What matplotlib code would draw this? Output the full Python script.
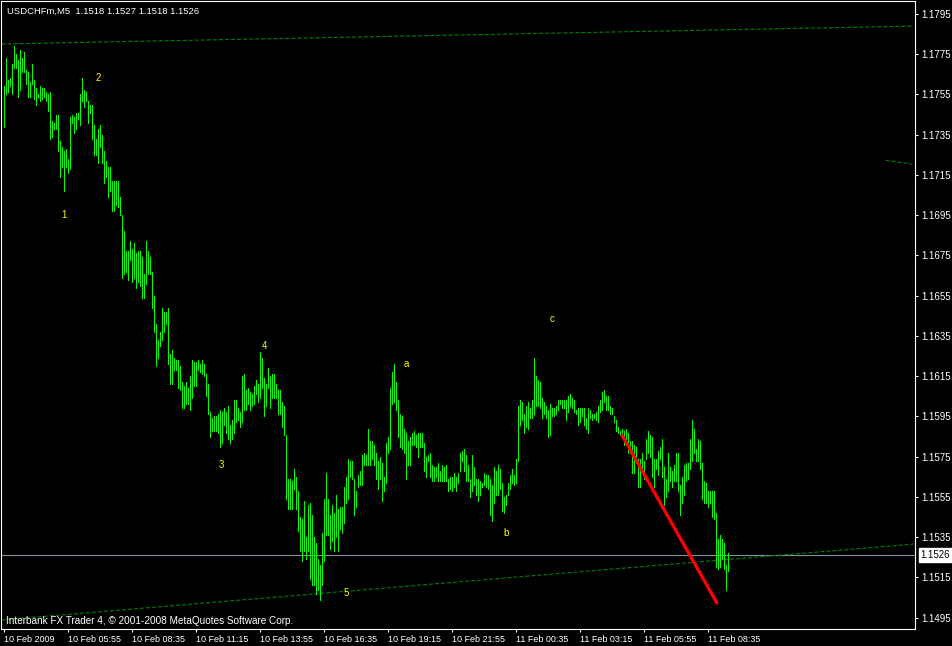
import matplotlib
import matplotlib.pyplot as plt
import matplotlib.transforms as mtransforms
import numpy as np
import pandas as pd

plt.switch_backend('agg')
plt.rcParams['font.family'] = ['Liberation Sans', 'DejaVu Sans']
plt.rcParams['lines.scale_dashes'] = False

# 5 minute bars, prices in pips (1/10000)
high_pips = [
    11759, 11773, 11762, 11763, 11770, 11779, 11775, 11772, 11777, 11773,
    11776, 11767, 11766, 11761, 11770, 11762, 11758, 11755, 11759, 11758,
    11758, 11756, 11755, 11756, 11742, 11741, 11745, 11745, 11732, 11729,
    11727, 11728, 11723, 11744, 11745, 11744, 11746, 11746, 11755, 11763,
    11757, 11756, 11752, 11750, 11750, 11740, 11733, 11738, 11740, 11735,
    11727, 11722, 11719, 11719, 11712, 11712, 11712, 11712, 11704, 11695,
    11687, 11677, 11677, 11682, 11678, 11681, 11676, 11677, 11677, 11674,
    11666, 11682, 11677, 11674, 11667, 11655, 11641, 11633, 11637, 11649,
    11647, 11647, 11649, 11626, 11628, 11624, 11623, 11623, 11620, 11612,
    11610, 11612, 11609, 11615, 11623, 11622, 11622, 11623, 11621, 11623,
    11621, 11616, 11611, 11597, 11594, 11595, 11595, 11596, 11598, 11597,
    11599, 11597, 11600, 11591, 11593, 11603, 11603, 11599, 11597, 11615,
    11616, 11608, 11609, 11607, 11606, 11610, 11613, 11611, 11627, 11624,
    11614, 11611, 11619, 11615, 11616, 11616, 11611, 11608, 11608, 11602,
    11600, 11586, 11564, 11564, 11563, 11569, 11565, 11558, 11545, 11544,
    11553, 11535, 11551, 11552, 11546, 11535, 11532, 11524, 11521, 11537,
    11554, 11567, 11554, 11546, 11551, 11547, 11556, 11549, 11550, 11550,
    11560, 11565, 11574, 11573, 11573, 11564, 11558, 11566, 11568, 11576,
    11577, 11576, 11589, 11583, 11583, 11581, 11577, 11573, 11575, 11572,
    11565, 11582, 11585, 11609, 11617, 11621, 11612, 11603, 11596, 11595,
    11589, 11587, 11583, 11585, 11587, 11588, 11586, 11587, 11587, 11587,
    11582, 11575, 11576, 11577, 11571, 11570, 11570, 11572, 11568, 11571,
    11570, 11571, 11564, 11565, 11565, 11567, 11565, 11567, 11577, 11578,
    11579, 11576, 11571, 11564, 11576, 11570, 11564, 11564, 11563, 11562,
    11567, 11566, 11566, 11564, 11561, 11570, 11568, 11571, 11569, 11562,
    11555, 11556, 11562, 11566, 11569, 11566, 11574, 11600, 11603, 11602,
    11596, 11600, 11602, 11599, 11603, 11624, 11615, 11613, 11612, 11604,
    11602, 11600, 11598, 11601, 11599, 11599, 11600, 11603, 11603, 11603,
    11603, 11603, 11605, 11606, 11604, 11603, 11598, 11599, 11599, 11599,
    11599, 11594, 11599, 11598, 11596, 11596, 11597, 11600, 11603, 11607,
    11608, 11605, 11605, 11600, 11599, 11595, 11593, 11590, 11588, 11589,
    11588, 11589, 11587, 11583, 11583, 11581, 11580, 11574, 11574, 11577,
    11573, 11584, 11588, 11586, 11585, 11574, 11574, 11578, 11580, 11584,
    11570, 11564, 11577, 11570, 11568, 11571, 11577, 11577, 11561, 11565,
    11571, 11572, 11572, 11584, 11593, 11589, 11579, 11584, 11583, 11572,
    11563, 11562, 11558, 11558, 11558, 11558, 11547, 11534, 11536, 11534,
    11532, 11521, 11527,
]
low_pips = [
    11739, 11755, 11756, 11759, 11755, 11768, 11768, 11754, 11757, 11766,
    11766, 11760, 11754, 11754, 11760, 11753, 11750, 11754, 11752, 11753,
    11754, 11752, 11747, 11733, 11734, 11738, 11738, 11727, 11714, 11719,
    11707, 11719, 11716, 11718, 11741, 11736, 11738, 11743, 11740, 11752,
    11749, 11752, 11741, 11746, 11733, 11725, 11725, 11721, 11729, 11721,
    11711, 11714, 11704, 11707, 11697, 11697, 11700, 11699, 11695, 11664,
    11666, 11667, 11663, 11673, 11662, 11664, 11659, 11662, 11660, 11654,
    11654, 11661, 11666, 11666, 11649, 11637, 11620, 11624, 11630, 11633,
    11637, 11641, 11621, 11611, 11611, 11618, 11618, 11609, 11608, 11599,
    11599, 11601, 11601, 11598, 11604, 11610, 11610, 11618, 11617, 11616,
    11615, 11605, 11596, 11585, 11588, 11588, 11588, 11587, 11580, 11582,
    11591, 11587, 11584, 11582, 11584, 11587, 11592, 11593, 11590, 11592,
    11598, 11598, 11601, 11598, 11600, 11601, 11606, 11602, 11604, 11609,
    11595, 11600, 11609, 11599, 11604, 11604, 11604, 11596, 11596, 11590,
    11586, 11554, 11549, 11549, 11549, 11559, 11549, 11538, 11528, 11523,
    11528, 11524, 11528, 11514, 11511, 11511, 11507, 11509, 11504, 11511,
    11523, 11536, 11536, 11529, 11533, 11528, 11535, 11528, 11539, 11537,
    11542, 11552, 11554, 11565, 11564, 11546, 11550, 11560, 11561, 11561,
    11571, 11571, 11571, 11571, 11574, 11571, 11564, 11559, 11564, 11553,
    11558, 11562, 11577, 11579, 11601, 11602, 11598, 11585, 11580, 11579,
    11577, 11564, 11571, 11571, 11581, 11581, 11580, 11575, 11580, 11580,
    11568, 11565, 11573, 11565, 11563, 11563, 11565, 11563, 11563, 11563,
    11563, 11563, 11558, 11559, 11558, 11560, 11558, 11562, 11568, 11573,
    11568, 11563, 11563, 11555, 11558, 11561, 11556, 11553, 11556, 11560,
    11561, 11560, 11559, 11546, 11543, 11552, 11556, 11556, 11559, 11548,
    11547, 11551, 11556, 11559, 11562, 11561, 11562, 11573, 11591, 11593,
    11587, 11590, 11589, 11594, 11594, 11596, 11600, 11600, 11599, 11594,
    11596, 11594, 11585, 11586, 11595, 11595, 11596, 11598, 11601, 11599,
    11599, 11593, 11597, 11600, 11599, 11597, 11596, 11591, 11592, 11595,
    11591, 11589, 11587, 11594, 11593, 11594, 11593, 11592, 11597, 11598,
    11602, 11598, 11598, 11596, 11596, 11592, 11588, 11587, 11586, 11585,
    11581, 11584, 11577, 11577, 11567, 11567, 11572, 11560, 11560, 11569,
    11564, 11574, 11577, 11575, 11565, 11560, 11569, 11566, 11574, 11565,
    11551, 11555, 11558, 11563, 11560, 11563, 11563, 11558, 11546, 11552,
    11556, 11563, 11564, 11569, 11573, 11577, 11573, 11573, 11569, 11554,
    11552, 11552, 11550, 11552, 11545, 11544, 11520, 11519, 11520, 11524,
    11519, 11509, 11518,
]

price_ticks = [1.1795, 1.1775, 1.1755, 1.1735, 1.1715, 1.1695, 1.1675, 1.1655,
               1.1635, 1.1615, 1.1595, 1.1575, 1.1555, 1.1535, 1.1515, 1.1495]
bid = 1.1526

# wave labels: (bar index, price, text)
wave_labels = [(30.5, 1.16951, '1'), (47.5, 1.17632, '2'), (109, 1.15709, '3'),
               (130.5, 1.16300, '4'), (171.5, 1.15073, '5'), (201.5, 1.16211, 'a'),
               (251.5, 1.15371, 'b'), (274.5, 1.16434, 'c')]

# trend lines: (bar0, price0, bar1, price1)
upper_line = (-1, 1.17801, 455, 1.17890)
lower_line = (-1, 1.14939, 455, 1.15316)
short_line = (441, 1.17223, 454.5, 1.17203)
red_line = (309, 1.15861, 357, 1.15018)

high = np.array(high_pips) / 10000.0
low = np.array(low_pips) / 10000.0
n = len(high)
idx = np.arange(n)
times = pd.date_range('2009-02-10 03:15', periods=n, freq='5min')

tick_idx = idx[::32]
tick_lbl = [t.strftime('%d %b %H:%M') for t in times[::32]]
tick_lbl[0] = times[0].strftime('%d %b %Y')

W, H = 953, 646
fig = plt.figure(figsize=(W / 100, H / 100), dpi=100, facecolor='black')
ax = fig.add_axes([1 / W, 17 / H, 914 / W, 628 / H], facecolor='black')

px_per_unit = 20123.0
ax.set_xlim(-1.25, 455.75)
ax.set_ylim(1.1795 - 615 / px_per_unit, 1.1795 + 13 / px_per_unit)

# bars
ax.vlines(idx, low, high, colors='#00ff00', linewidth=0.5, antialiased=False, zorder=3)

# bid line
ax.axhline(bid, color='#8090a0', linewidth=0.8, zorder=2)

dash = (0, (2.9, 1.45))
for ln in (upper_line, lower_line, short_line):
    ax.plot([ln[0], ln[2]], [ln[1], ln[3]], color='#008000', linewidth=0.8,
            linestyle=dash, zorder=2)
ax.plot([red_line[0], red_line[2]], [red_line[1], red_line[3]], color='#ff0000',
        linewidth=2.4, solid_capstyle='butt', zorder=4)

for bx, by, t in wave_labels:
    ax.text(bx, by, t, color='#ffff00', fontsize=7, ha='center', va='center', zorder=5)

# axes styling
for s in ax.spines.values():
    s.set_color('white')
    s.set_linewidth(0.8)
ax.yaxis.tick_right()
ax.set_yticks(price_ticks)
ax.set_yticklabels(['%.4f' % p for p in price_ticks])
ax.set_xticks(tick_idx)
ax.set_xticklabels(tick_lbl)
for lbl in ax.get_xticklabels():
    lbl.set_ha('left')
ax.tick_params(axis='both', colors='white', labelcolor='white', labelsize=7,
               length=2.5, width=0.8, direction='out')
ax.tick_params(axis='y', pad=2)
ax.tick_params(axis='x', pad=2, labelsize=6.5)

# current price box
trans = mtransforms.blended_transform_factory(ax.transAxes, ax.transData)
ax.text(1.0062, bid, '%.4f' % bid, transform=trans, color='black', fontsize=7,
        ha='left', va='center', clip_on=False, zorder=6,
        bbox=dict(boxstyle='square,pad=0.2', facecolor='white', edgecolor='white'))

fig.text(7 / W, 1 - 11 / H, 'USDCHFm,M5  1.1518 1.1527 1.1518 1.1526', color='white',
         fontsize=6.8, ha='left', va='center')
fig.text(6 / W, 1 - 621 / H, 'Interbank FX Trader 4, \u00a9 2001-2008 MetaQuotes Software Corp.',
         color='white', fontsize=7.2, ha='left', va='center')

fig.savefig('out.png', dpi=100, facecolor='black')
